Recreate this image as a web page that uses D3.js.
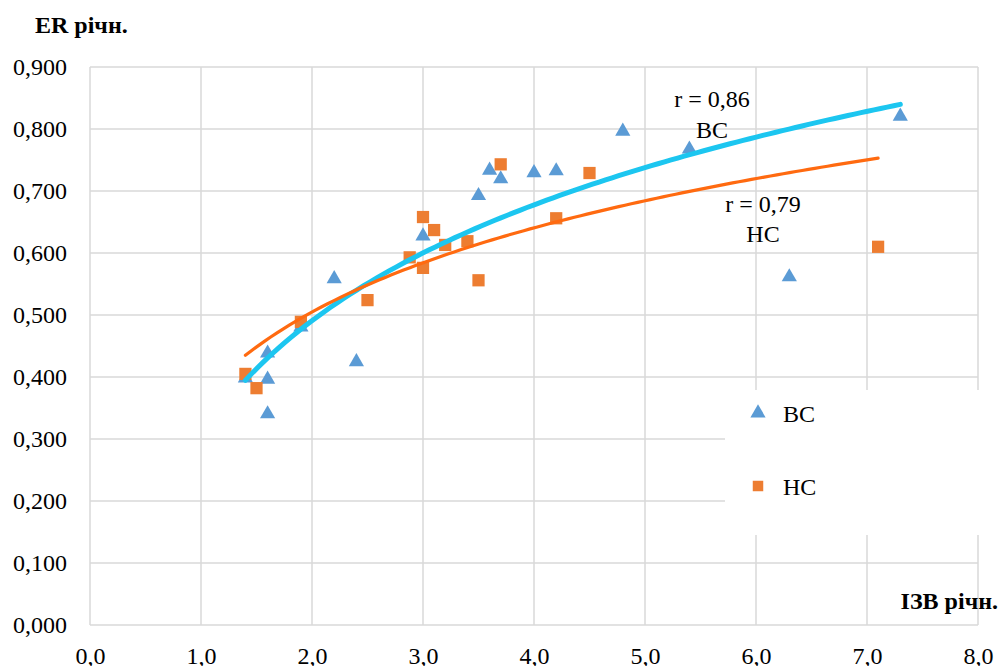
<!DOCTYPE html>
<html>
<head>
<meta charset="utf-8">
<script src="https://cdn.jsdelivr.net/npm/d3@7"></script>
<style>
  html, body { margin: 0; padding: 0; background: #fff; }
  svg, svg text { font-family: "Liberation Serif", "Times New Roman", serif !important; }
</style>
</head>
<body>
<svg id="chart" width="1001" height="666"></svg>
<script>
// ---- data ----
const bcX = [1.4, 1.6, 1.6, 1.6, 1.9, 2.2, 2.4, 3.0, 3.5, 3.6, 3.7, 4.0, 4.2, 4.8, 5.4, 6.3, 7.3];
const bcY = [0.400, 0.440, 0.398, 0.342, 0.482, 0.560, 0.426, 0.629, 0.694, 0.735, 0.721, 0.731, 0.734, 0.798, 0.769, 0.563, 0.822];
const hcX = [1.4, 1.5, 1.9, 2.5, 2.88, 3.0, 3.0, 3.1, 3.2, 3.4, 3.5, 3.7, 4.2, 4.5, 7.1];
const hcY = [0.405, 0.382, 0.489, 0.524, 0.593, 0.576, 0.658, 0.637, 0.613, 0.619, 0.556, 0.743, 0.656, 0.729, 0.610];
// logarithmic trend lines y = a + b*ln(x), coefficients
const bcTrendCoef = [0.304, 0.2695];
const bcTrendRange = [1.4, 7.3];
const hcTrendCoef = [0.369, 0.1959];
const hcTrendRange = [1.4, 7.1];
const xTicks = [0, 1, 2, 3, 4, 5, 6, 7, 8];
const yTicks = [0, 0.1, 0.2, 0.3, 0.4, 0.5, 0.6, 0.7, 0.8, 0.9];
const seriesNames = ["ВС", "НС"];
const rLabels = ["r = 0,86", "r = 0,79"];

// ---- layout ----
const FONT = "'Liberation Serif', 'Times New Roman', serif";
const svg = d3.select("#chart");
const x = d3.scaleLinear().domain([0, 8]).range([90, 978]);
const y = d3.scaleLinear().domain([0, 0.9]).range([625, 67]);
const gridColor = "#d9d9d9";
const fmtX = v => d3.format(".1f")(v).replace(".", ",");
const fmtY = v => d3.format(".3f")(v).replace(".", ",");

// gridlines
svg.append("g").selectAll("line").data(yTicks).join("line")
  .attr("x1", x(0)).attr("x2", x(8))
  .attr("y1", d => y(d)).attr("y2", d => y(d))
  .attr("stroke", gridColor).attr("stroke-width", 1.5);
svg.append("g").selectAll("line").data(xTicks).join("line")
  .attr("x1", d => x(d)).attr("x2", d => x(d))
  .attr("y1", y(0)).attr("y2", y(0.9))
  .attr("stroke", gridColor).attr("stroke-width", 1.5);

// axes labels via d3 axes (no domain/tick lines)
const xAxis = svg.append("g").attr("transform", `translate(0,${y(0)})`)
  .call(d3.axisBottom(x).tickValues(xTicks).tickFormat(fmtX).tickSize(0).tickPadding(22));
const yAxis = svg.append("g").attr("transform", `translate(${x(0)},0)`)
  .call(d3.axisLeft(y).tickValues(yTicks).tickFormat(fmtY).tickSize(0).tickPadding(23));
[xAxis, yAxis].forEach(g => {
  g.attr("font-family", null).attr("font-size", null);
  g.select(".domain").remove();
  g.selectAll("text").style("font-family", FONT).style("font-size", "24px").attr("fill", "#000");
});

// legend background box (covers gridlines)
svg.append("rect").attr("x", 725).attr("y", 390).attr("width", 276).attr("height", 145).attr("fill", "#fff");

// markers
const tri = d3.symbol().type(d3.symbolTriangle).size(100);
const sq = d3.symbol().type(d3.symbolSquare).size(150);
svg.append("g").selectAll("path").data(bcX.map((v, i) => [v, bcY[i]])).join("path")
  .attr("d", tri).attr("transform", d => `translate(${x(d[0])},${y(d[1]) + 1})`)
  .attr("fill", "#5b9bd5");
svg.append("g").selectAll("path").data(hcX.map((v, i) => [v, hcY[i]])).join("path")
  .attr("d", sq).attr("transform", d => `translate(${x(d[0])},${y(d[1])})`)
  .attr("fill", "#ed7d31");

// trend lines
function trend(coef, range) {
  const pts = d3.range(0, 101).map(i => {
    const xv = range[0] + (range[1] - range[0]) * i / 100;
    return [xv, coef[0] + coef[1] * Math.log(xv)];
  });
  return d3.line().x(d => x(d[0])).y(d => y(d[1]))(pts);
}
svg.append("path").attr("d", trend(bcTrendCoef, bcTrendRange))
  .attr("fill", "none").attr("stroke", "#1cc6f0").attr("stroke-width", 5).attr("stroke-linecap", "round");
svg.append("path").attr("d", trend(hcTrendCoef, hcTrendRange))
  .attr("fill", "none").attr("stroke", "#ff6a10").attr("stroke-width", 3.2).attr("stroke-linecap", "round");

// annotations
function txt(xp, yp, s, opts = {}) {
  return svg.append("text").attr("x", xp).attr("y", yp)
    .attr("text-anchor", opts.anchor || "start")
    .style("font-family", FONT).style("font-size", "24px")
    .style("font-weight", opts.bold ? "bold" : "normal")
    .attr("fill", "#000").text(s);
}
txt(712, 107, rLabels[0], { anchor: "middle" });
txt(712, 138, seriesNames[0], { anchor: "middle" });
txt(763, 212, rLabels[1], { anchor: "middle" });
txt(763, 242, seriesNames[1], { anchor: "middle" });

// legend
svg.append("path").attr("d", tri).attr("transform", `translate(758,413)`).attr("fill", "#5b9bd5");
svg.append("path").attr("d", d3.symbol().type(d3.symbolSquare).size(110)).attr("transform", `translate(758,486)`).attr("fill", "#ed7d31");
txt(783, 422, seriesNames[0]);
txt(783, 495, seriesNames[1]);

// axis titles
txt(35, 33, "ER річн.", { bold: true });
txt(998, 609, "ІЗВ річн.", { anchor: "end", bold: true });
</script>
</body>
</html>
